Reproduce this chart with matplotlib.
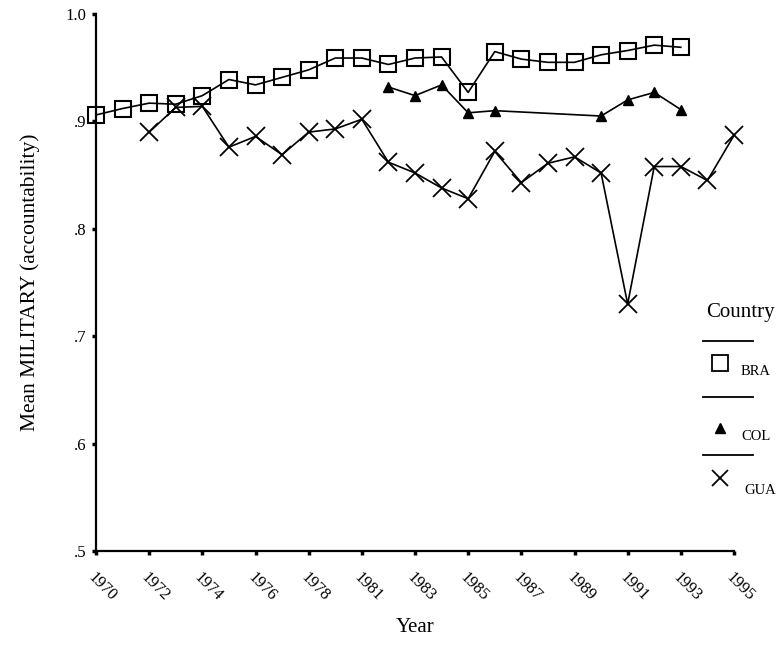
import matplotlib
matplotlib.use('Agg')
import matplotlib.pyplot as plt
from matplotlib.lines import Line2D

# years on the axis (1980 has no data, so it is not a category)
years = list(range(1970, 1980)) + list(range(1981, 1996))
tick_years = years[::2]

bra_years = years[:23]
bra_vals = [0.906, 0.912, 0.917, 0.916, 0.924, 0.939, 0.934, 0.941, 0.948, 0.959,
            0.959, 0.953, 0.959, 0.960, 0.927, 0.965, 0.958, 0.955, 0.955, 0.962,
            0.966, 0.971, 0.969]

col_years = [1982, 1983, 1984, 1985, 1986, 1990, 1991, 1992, 1993]
col_vals = [0.932, 0.924, 0.934, 0.908, 0.910, 0.905, 0.920, 0.927, 0.911]

gua_years = years[2:]
gua_vals = [0.890, 0.913, 0.914, 0.876, 0.886, 0.869, 0.890, 0.893, 0.902, 0.862,
            0.852, 0.838, 0.828, 0.872, 0.843, 0.861, 0.867, 0.852, 0.730, 0.858,
            0.858, 0.845, 0.887]

y_ticks = [0.5, 0.6, 0.7, 0.8, 0.9, 1.0]
y_tick_labels = ['.5', '.6', '.7', '.8', '.9', '1.0']

plt.rcParams['font.family'] = ['Liberation Serif', 'DejaVu Serif']

W, H = 781, 649
fig = plt.figure(figsize=(W / 100, H / 100), dpi=100)


def fx(px):
    return px / W


def fy(py):
    return 1 - py / H


ax = fig.add_axes([fx(96), fy(551), fx(734) - fx(96), fy(14) - fy(551)])


def pos(ys):
    return [years.index(y) for y in ys]


ax.plot(pos(bra_years), bra_vals, color='black', lw=1.2, marker='s', ms=12,
        mfc='none', mec='black', mew=1.5, clip_on=False, zorder=3)
ax.plot(pos(col_years), col_vals, color='black', lw=1.2, marker='^', ms=7,
        mfc='black', mec='black', clip_on=False, zorder=3)
ax.plot(pos(gua_years), gua_vals, color='black', lw=1.2, marker='x', ms=13,
        mew=1.3, clip_on=False, zorder=3)

ax.set_xlim(0, len(years) - 1)
ax.set_ylim(0.5, 1.0)
ax.set_yticks(y_ticks)
ax.set_yticklabels(y_tick_labels, fontsize=12)
ax.set_xticks(pos(tick_years))
ax.set_xticklabels([str(y) for y in tick_years], fontsize=12, rotation=-45,
                   ha='left', va='top', rotation_mode='anchor')
ax.tick_params(axis='both', direction='out', length=3, width=2.5, pad=4)
ax.tick_params(axis='x', pad=10)
for side in ['top', 'right']:
    ax.spines[side].set_visible(False)
for side in ['left', 'bottom']:
    ax.spines[side].set_linewidth(1.6)

ax.set_xlabel('Year', fontsize=15, labelpad=10)
ax.set_ylabel('Mean MILITARY (accountability)', fontsize=15.5, labelpad=18)

# legend, drawn by hand in the old SPSS layout
fig.text(fx(740), fy(313), 'Country', fontsize=15, ha='center', va='center')
legend_rows = [
    ('BRA', dict(marker='s', ms=11, mfc='none', mec='black', mew=1.3), 341, 363, 741, 372),
    ('COL', dict(marker='^', ms=7, mfc='black', mec='black'), 397, 428, 741, 437),
    ('GUA', dict(marker='x', ms=12, mec='black', mew=1.3), 455, 478, 744, 490),
]
for name, style, line_y, mark_y, text_x, text_y in legend_rows:
    fig.add_artist(Line2D([fx(703), fx(753)], [fy(line_y), fy(line_y)],
                          color='black', lw=1.3))
    fig.add_artist(Line2D([fx(720)], [fy(mark_y)], linestyle='none', **style))
    fig.text(fx(text_x), fy(text_y), name, fontsize=10.5, ha='left', va='center')

fig.savefig('out.png', dpi=100, facecolor='white')
